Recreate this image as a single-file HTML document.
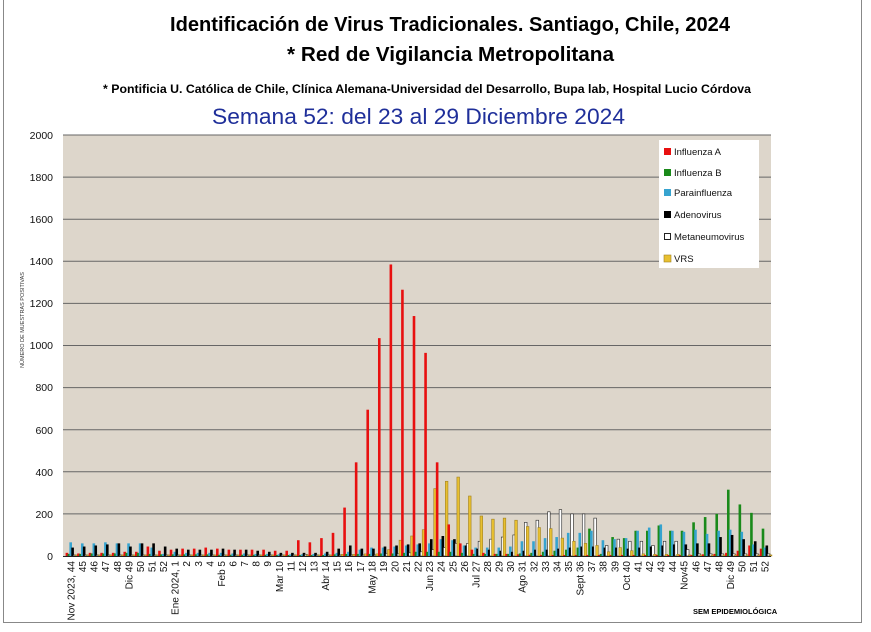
<!DOCTYPE html>
<html><head><meta charset="utf-8"><style>
body{margin:0;background:#fff;width:871px;height:627px;overflow:hidden;font-family:"Liberation Sans",sans-serif}
</style></head><body>
<svg id="s" width="871" height="627" xmlns="http://www.w3.org/2000/svg" font-family="Liberation Sans, sans-serif">
<rect x="0" y="0" width="871" height="627" fill="#fff"/>
<line x1="3.5" y1="0" x2="3.5" y2="623" stroke="#888"/>
<line x1="861.5" y1="0" x2="861.5" y2="623" stroke="#888"/>
<line x1="3" y1="622.5" x2="862" y2="622.5" stroke="#888"/>
<text x="170" y="31" font-size="20" font-weight="bold" textLength="560" lengthAdjust="spacingAndGlyphs">Identificación de Virus Tradicionales. Santiago, Chile, 2024</text>
<text x="287" y="61" font-size="20" font-weight="bold" textLength="327" lengthAdjust="spacingAndGlyphs">* Red de Vigilancia Metropolitana</text>
<text x="103" y="93" font-size="11.5" font-weight="bold" textLength="648" lengthAdjust="spacingAndGlyphs">* Pontificia U. Católica de Chile, Clínica Alemana-Universidad del Desarrollo, Bupa lab, Hospital Lucio Córdova</text>
<text x="212" y="124" font-size="22" fill="#1f2f9a" textLength="413" lengthAdjust="spacingAndGlyphs">Semana 52:  del 23 al 29 Diciembre 2024</text>
<rect x="63" y="135" width="708" height="421" fill="#ddd6cb"/>
<g id="grid" stroke="#666" stroke-width="1"></g>
<g font-size="10.5" text-anchor="end" fill="#111">
<text x="53" y="139">2000</text><text x="53" y="181">1800</text><text x="53" y="223">1600</text><text x="53" y="265">1400</text><text x="53" y="307">1200</text><text x="53" y="349">1000</text><text x="53" y="391">800</text><text x="53" y="434">600</text><text x="53" y="476">400</text><text x="53" y="518">200</text><text x="53" y="560">0</text>
</g>
<text transform="translate(24,320) rotate(-90)" font-size="5.5" text-anchor="middle" fill="#333">NÚMERO DE MUESTRAS POSITIVAS</text>
<g id="bars"></g>
<line x1="63" y1="556.5" x2="771" y2="556.5" stroke="#222"/>
<g id="xl" font-size="10" text-anchor="end" fill="#111">
<text>Nov 2023, 44</text><text>45</text><text>46</text><text>47</text><text>48</text><text>Dic 49</text><text>50</text><text>51</text><text>52</text>
<text>Ene 2024, 1</text><text>2</text><text>3</text><text>4</text><text>Feb 5</text><text>6</text><text>7</text><text>8</text><text>9</text><text>Mar 10</text><text>11</text><text>12</text><text>13</text><text>Abr 14</text><text>15</text><text>16</text><text>17</text><text>May 18</text><text>19</text><text>20</text><text>21</text><text>22</text><text>Jun 23</text><text>24</text><text>25</text><text>26</text><text>Jul 27</text><text>28</text><text>29</text><text>30</text><text>Ago 31</text><text>32</text><text>33</text><text>34</text><text>35</text><text>Sept 36</text><text>37</text><text>38</text><text>39</text><text>Oct 40</text><text>41</text><text>42</text><text>43</text><text>44</text><text>Nov45</text><text>46</text><text>47</text><text>48</text><text>Dic 49</text><text>50</text><text>51</text><text>52</text>
</g>
<text x="693" y="614" font-size="7.5" font-weight="bold">SEM EPIDEMIOLÓGICA</text>
<rect x="659" y="140" width="100" height="128" fill="#fff"/>
<g font-size="9.5" fill="#111">
<rect x="664" y="148" width="7" height="7" fill="#e81010"/><text x="674" y="155">Influenza A</text>
<rect x="664" y="169" width="7" height="7" fill="#1a8a1a"/><text x="674" y="176">Influenza B</text>
<rect x="664" y="189" width="7" height="7" fill="#36a3cf"/><text x="674" y="196">Parainfluenza</text>
<rect x="664" y="211" width="7" height="7" fill="#000"/><text x="674" y="218">Adenovirus</text>
<rect x="664.5" y="233.5" width="6" height="6" fill="#fff" stroke="#222"/><text x="674" y="240">Metaneumovirus</text>
<rect x="664" y="255" width="7" height="7" fill="#e8c030" stroke="#a08020" stroke-width="0.6"/><text x="674" y="262">VRS</text>
</g>
</svg>
<script>
var NS="http://www.w3.org/2000/svg";
var g=document.getElementById('grid');
for(var v=200;v<=2000;v+=200){var y=556-v*0.2105;var l=document.createElementNS(NS,'line');l.setAttribute('x1',63);l.setAttribute('x2',771);l.setAttribute('y1',y.toFixed(1));l.setAttribute('y2',y.toFixed(1));g.appendChild(l);}
var A=[15,12,15,15,15,20,20,45,25, 30,35,35,40,35,30,30,30,30,25,25,75,65,85,110,230,445,695,1035,1385,1265,1140,965,445,150,60,30,15,10,10,8,6,5,5,5,5,5,5,5,5,5,5,5,5,5,5,8,10,15,25,50,35];
var B=[10,10,12,12,12,15,15,10,8, 8,8,8,8,6,6,6,6,6,5,5,5,5,5,8,10,10,10,12,12,15,20,20,20,20,15,10,10,10,10,12,15,20,25,30,40,130,10,90,85,120,120,145,120,120,160,185,200,315,245,205,130];
var P=[65,60,60,65,60,60,60,40,10, 20,15,15,15,15,12,12,10,10,8,8,8,10,12,15,20,30,40,40,45,50,55,60,80,75,50,40,40,40,45,70,70,85,90,110,110,120,75,80,85,120,135,150,120,115,125,105,120,125,115,55,40];
var D=[40,45,50,55,60,45,60,60,45, 35,30,30,30,35,30,30,25,20,15,15,15,15,20,35,50,35,35,45,50,55,60,80,95,80,50,35,30,25,20,25,30,30,35,40,45,45,40,40,35,40,45,50,55,55,60,60,90,100,80,70,50];
var M=[5,5,5,5,5,5,5,5,5, 5,5,5,5,5,5,5,5,5,5,5,8,5,5,5,5,5,5,10,10,15,20,30,40,60,60,70,80,90,100,160,170,210,220,200,200,180,50,80,70,70,50,70,70,30,10,10,10,10,10,10,10];
var R=[5,5,5,5,5,5,5,5,5, 5,5,5,5,5,5,5,5,5,5,5,5,5,5,8,8,10,10,30,75,95,125,320,355,375,285,190,175,180,170,140,135,130,85,70,60,50,20,40,25,10,8,8,8,5,5,5,5,5,5,5,5];
var S=[[A,'#e81010','none',-5.4],[B,'#1a8a1a','none',-3.5],[P,'#36a3cf','none',-1.6],[D,'#000','none',0.3],[M,'#fff','#222',2.2],[R,'#e8c030','#a08020',4.1]];
var bg=document.getElementById('bars');
for(var i=0;i<61;i++){var cx=71+i*11.57;
 for(var k=0;k<6;k++){var v=S[k][0][i]||0;var h=v*0.2105;var r=document.createElementNS(NS,'rect');
  r.setAttribute('x',(cx+S[k][3]).toFixed(2));r.setAttribute('y',(556-h).toFixed(2));r.setAttribute('width',2.6);r.setAttribute('height',h.toFixed(2));r.setAttribute('fill',S[k][1]);
  if(S[k][2]!='none'){r.setAttribute('stroke',S[k][2]);r.setAttribute('stroke-width',0.6);}
  bg.appendChild(r);}
}
var ts=document.getElementById('xl').getElementsByTagName('text');
for(var i=0;i<ts.length;i++){var x=71+i*11.57+3.5;ts[i].setAttribute('transform','translate('+x.toFixed(1)+',561) rotate(-90)');}
</script>
</body></html>
